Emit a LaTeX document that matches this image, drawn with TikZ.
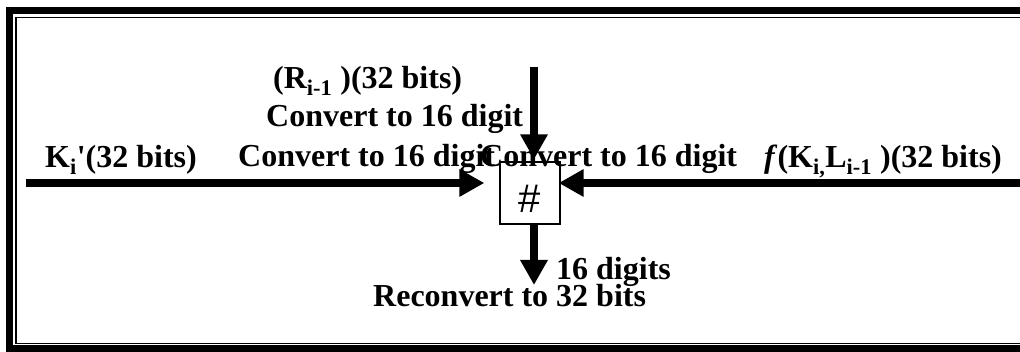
\documentclass[tikz,border=0pt]{standalone}
\usepackage{fontspec}
\setmainfont{Liberation Serif}
\setsansfont{Liberation Sans}
\usetikzlibrary{arrows.meta}
\tikzset{
  lbl/.style={anchor=base west, inner sep=0pt, font=\fontsize{32}{36}\selectfont\bfseries},
  flow/.style={line width=8pt, -{Triangle[length=25pt,width=26pt]}},
  hashbox/.style={draw, fill=white, line width=1.3pt, minimum width=60pt, minimum height=62pt, inner sep=0pt, font=\fontsize{40}{42}\selectfont\sffamily},
  outerframe/.style={line width=7pt},
  innerframe/.style={line width=1.8pt},
}
\begin{document}
\begin{tikzpicture}[x=1pt,y=-1pt]
\useasboundingbox (0,0) rectangle (1020,352);
\clip (0,0) rectangle (1020,352);
% double frame (right side runs off the page)
\draw[outerframe] (9,11) rectangle (1060,349);
\draw[innerframe] (16,17.5) rectangle (1050,343.5);
% central box
\node[hashbox] (hash) at (530,193) {\raisebox{-19.5pt}[0pt][0pt]{\#}};
% free ends
\coordinate (kin) at (26,183);
\coordinate (fin) at (1030,183);
\coordinate (rin) at (534,67);
\coordinate (out) at (534,285);
% labels
\node[lbl] (rlbl) at (273,89) {(R\textsubscript{i-1} )(32 bits)};
\node[lbl] (cup) at (266,127) {Convert to 16 digit};
\node[lbl] (klbl) at (45,168) {K\textsubscript{i}\textquotesingle(32 bits)};
\node[lbl] (cleft) at (238,167) {Convert to 16 digit};
\node[lbl] (cright) at (480,167) {Convert to 16 digit};
\node[lbl] (flbl) at (764,168) {\textit{f}(K\textsubscript{i,}L\textsubscript{i-1} )(32 bits)};
\node[lbl] (dlbl) at (556,280) {16 digits};
\node[lbl] (reclbl) at (373,307) {Reconvert to 32 bits};
% connectors
\draw[flow, shorten >=15pt] (kin) -- (kin -| hash.west);
\draw[flow, shorten >=-2pt] (fin) -- (fin -| hash.east);
\draw[flow, shorten >=2pt] (rin) -- (rin |- hash.north);
\draw[flow] (hash.south -| out) -- (out);
\end{tikzpicture}
\end{document}
